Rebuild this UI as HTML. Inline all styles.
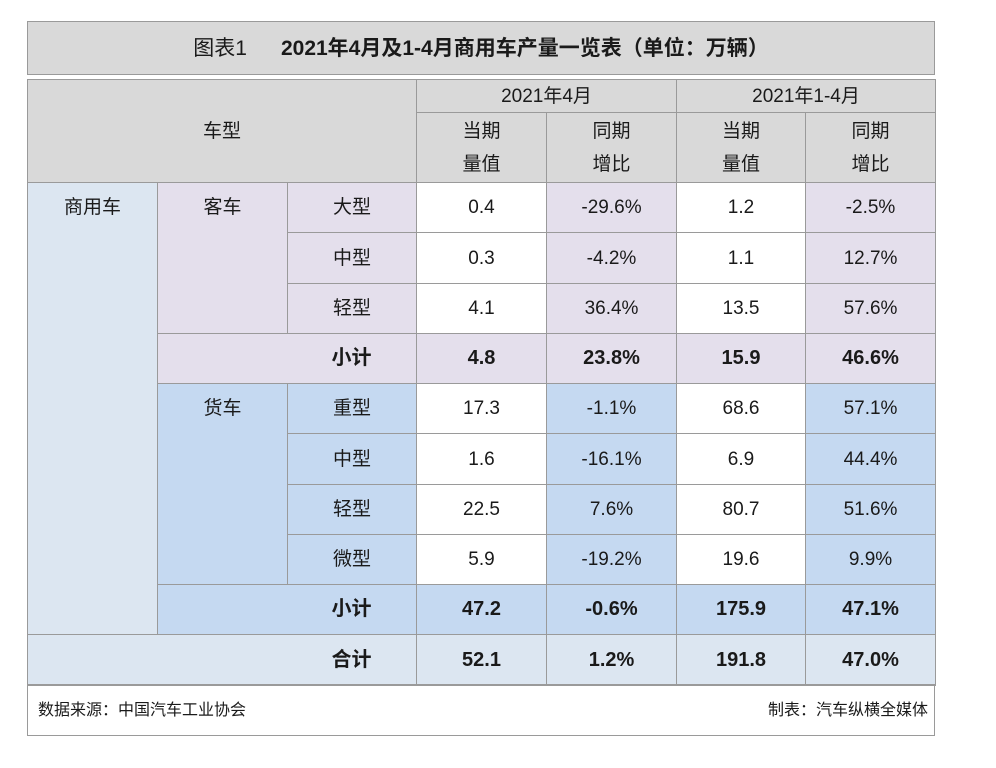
<!DOCTYPE html>
<html><head><meta charset="utf-8"><style>
body{margin:0;width:996px;height:768px;background:#fff;position:relative;overflow:hidden;font-family:"Liberation Sans","Noto Sans CJK SC",sans-serif;color:#1a1a1a}
.c{position:absolute;box-sizing:border-box;border:1px solid #9a9a9a;display:flex;align-items:center;justify-content:center;font-size:19px;text-align:center;line-height:33px}
.b{font-weight:bold;font-size:20px}
</style></head><body>
<div class="c" style="left:27px;top:21px;width:908px;height:54px;background:#d9d9d9;font-size:21px"><span style="margin-right:34px">图表1</span><b>2021年4月及1-4月商用车产量一览表（单位：万辆）</b></div>
<div id="t"></div>
<div class="c" style="left:27px;top:684px;width:908px;height:52px;justify-content:space-between;padding:0 6px 0 10px;font-size:16px"><span>数据来源：中国汽车工业协会</span><span>制表：汽车纵横全媒体</span></div>
<script>
const G='#d9d9d9',L='#dce6f1',P='#e4dfec',B='#c5d9f1',W='#fff';
const ys=[182,232,283,333,383,433,484,534,584,634,685];
const types=['大型','中型','轻型','小计','重型','中型','轻型','微型','小计','合计'];
const m4=['0.4','0.3','4.1','4.8','17.3','1.6','22.5','5.9','47.2','52.1'];
const y4=['-29.6%','-4.2%','36.4%','23.8%','-1.1%','-16.1%','7.6%','-19.2%','-0.6%','1.2%'];
const mc=['1.2','1.1','13.5','15.9','68.6','6.9','80.7','19.6','175.9','191.8'];
const yc=['-2.5%','12.7%','57.6%','46.6%','57.1%','44.4%','51.6%','9.9%','47.1%','47.0%'];
const root=document.getElementById('t');
function cell(x1,x2,y1,y2,bg,txt,bold,name,style){
 const d=document.createElement('div');
 d.className='c'+(bold?' b':'');
 d.style.cssText=`left:${x1}px;top:${y1}px;width:${x2-x1+1}px;height:${y2-y1+1}px;background:${bg};`+(style||'');
 d.innerHTML=txt;
 
 
 root.appendChild(d);
}
cell(27,416,79,182,G,'车型',0,'header-vehicle-type');
cell(416,676,79,112,G,'2021年4月',0,'header-april');
cell(676,935,79,112,G,'2021年1-4月',0,'header-jan-apr');
cell(416,546,112,182,G,'当期<br>量值',0,'header-april-value');
cell(546,676,112,182,G,'同期<br>增比',0,'header-april-yoy');
cell(676,805,112,182,G,'当期<br>量值',0,'header-cum-value');
cell(805,935,112,182,G,'同期<br>增比',0,'header-cum-yoy');
cell(27,157,182,685,L,'商用车',0,'category-commercial','align-items:flex-start;padding-top:8px');
cell(27,416,634,685,L,'',0,'total-label-bg');
cell(157,416,333,383,P,'',0,'bus-subtotal-bg');
cell(157,416,584,634,B,'',0,'truck-subtotal-bg');
cell(157,287,182,333,P,'客车',0,'group-bus','align-items:flex-start;padding-top:8px');
cell(157,287,383,584,B,'货车',0,'group-truck','align-items:flex-start;padding-top:8px');
for(let i=0;i<10;i++){
 const bus=i<4, tot=i===9, sub=(i===3||i===8);
 const t=tot?L:(bus?P:B);
 const y1=ys[i],y2=ys[i+1];
 const bold=sub||tot;
 if(sub||tot) cell(287,416,y1,y2,'transparent',types[i],1,'row-label-'+i,'border-left:none');
 else cell(287,416,y1,y2,t,types[i],0,'row-label-'+i);
 cell(416,546,y1,y2,bold?t:W,m4[i],bold,'april-value-'+i);
 cell(546,676,y1,y2,t,y4[i],bold,'april-yoy-'+i);
 cell(676,805,y1,y2,bold?t:W,mc[i],bold,'cum-value-'+i);
 cell(805,935,y1,y2,t,yc[i],bold,'cum-yoy-'+i);
}
</script>
</body></html>
